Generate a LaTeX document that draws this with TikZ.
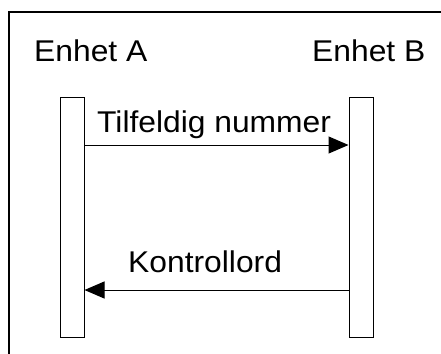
\documentclass[tikz,border=0pt]{standalone}
\usepackage{fontspec}
\setmainfont{Liberation Sans}
\usetikzlibrary{arrows.meta}
\newcommand{\wide}[1]{\scalebox{1.06}[1]{#1}}
\begin{document}
\begin{tikzpicture}[x=1pt,y=-1pt,
  label/.style={font=\fontsize{30}{34}\selectfont, inner sep=0pt, anchor=base west},
  lifeline/.style={draw=black, line width=1pt, fill=white, inner sep=0pt, minimum width=24pt, minimum height=240pt},
  msg/.style={line width=1pt, -{Triangle[length=20pt,width=17pt]}}]
  \useasboundingbox (0,0) rectangle (441,353);
  % outer frame, running past the right and bottom edges
  \draw[line width=2pt] (9,12) rectangle (450,370);
  % participant names
  \node[label] (na) at (34,62) {\wide{Enhet A}};
  \node[label] (nb) at (312,62) {\wide{Enhet B}};
  % activation bars
  \node[lifeline] (ba) at (72,217) {};
  \node[lifeline] (bb) at (361,217) {};
  % messages
  \coordinate (m1a) at (ba.east |- 0,145);
  \coordinate (m1b) at (bb.west |- 0,145);
  \draw[msg] (m1a) -- (m1b);
  \node[label] (t1) at (97,132) {\wide{Tilfeldig nummer}};
  \coordinate (m2b) at (bb.west |- 0,290);
  \coordinate (m2a) at (ba.east |- 0,290);
  \draw[msg] (m2b) -- (m2a);
  \node[label] (t2) at (128,272) {\wide{Kontrollord}};
\end{tikzpicture}
\end{document}
